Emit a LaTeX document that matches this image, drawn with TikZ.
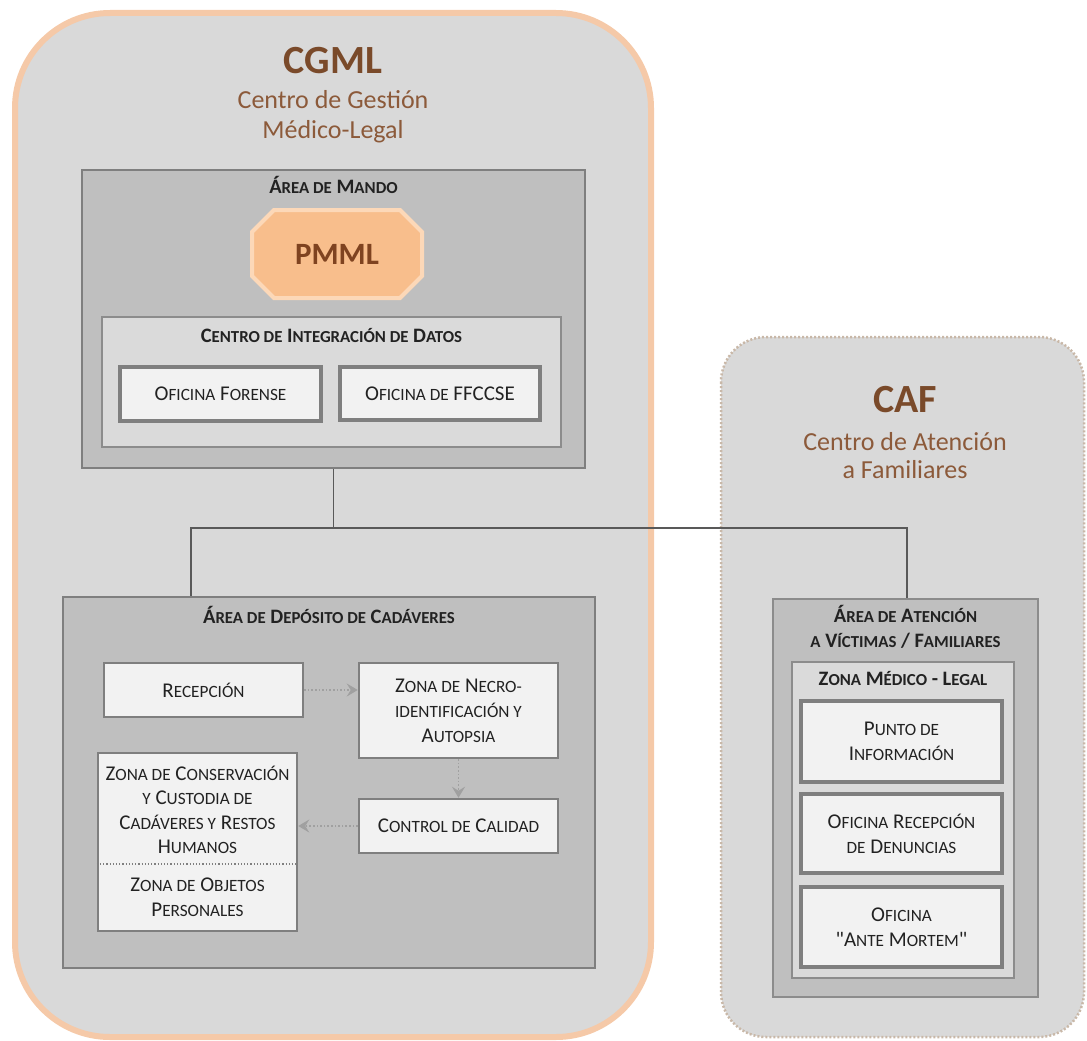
\documentclass[tikz,border=0pt]{standalone}
\usepackage{fontspec}
\setmainfont{Carlito}
\usetikzlibrary{arrows.meta}
\newcommand\sm[1]{{\addfontfeature{Scale=0.82}\MakeUppercase{#1}}}
\newcommand\dq{\XeTeXglyph\XeTeXcharglyph"0022\relax}
\definecolor{cgmlline}{HTML}{F5C9A8}
\definecolor{panel}{HTML}{D9D9D9}
\definecolor{cafline}{HTML}{C9B8A8}
\definecolor{areafill}{HTML}{BFBFBF}
\definecolor{arealine}{HTML}{7F7F7F}
\definecolor{zonefill}{HTML}{DADADA}
\definecolor{zoneline}{HTML}{8C8C8C}
\definecolor{boxfill}{HTML}{F2F2F2}
\definecolor{titlebrown}{HTML}{7A4A2A}
\definecolor{subbrown}{HTML}{8C5A3A}
\definecolor{pmmlfill}{HTML}{F8BE8C}
\definecolor{pmmlline}{HTML}{FCD8B8}
\definecolor{pmmltext}{HTML}{7F4320}
\definecolor{txt}{HTML}{222222}
\definecolor{conncol}{HTML}{595959}
\definecolor{flowcol}{HTML}{A0A0A0}
\tikzset{
  bigpanel/.style={rectangle, inner sep=0pt},
  areabox/.style={rectangle, draw=arealine, fill=areafill, line width=2.2pt, inner sep=0pt},
  zonebox/.style={rectangle, draw=zoneline, fill=zonefill, line width=1.4pt, inner sep=0pt},
  officebox/.style={rectangle, draw=arealine, fill=boxfill, line width=3.5pt, inner sep=2pt,
     align=center, text=txt, font=\fontsize{21}{25}\selectfont},
  roombox/.style={rectangle, draw=arealine, fill=boxfill, line width=2.5pt, inner sep=2pt,
     align=center, text=txt, font=\fontsize{21}{25}\selectfont},
  roomtext/.style={text=txt, align=center, font=\fontsize{21}{24.5}\selectfont},
  hdr/.style={anchor=base, text=txt, align=center, font=\fontsize{20.5}{25}\selectfont\bfseries},
  bigtitle/.style={anchor=base, text=titlebrown, font=\fontsize{40}{40}\selectfont\bfseries},
  subtitle/.style={anchor=base, text=subbrown, font=\fontsize{26}{30}\selectfont},
  conn/.style={draw=conncol, line width=1.4pt},
  flow/.style={draw=flowcol, line width=1.6pt, dotted, -{Stealth[length=11pt,width=13pt,inset=4pt]}}
}
\begin{document}
\begin{tikzpicture}[x=1pt,y=-1pt]
\useasboundingbox (0,0) rectangle (1087,1041);
% outer containers
\draw[cgmlline, line width=6pt, fill=panel, rounded corners=95pt] (15,13) rectangle (651,1037);
\node[bigpanel, minimum width=636, minimum height=1024] (cgml) at (333,525) {};
\draw[cafline, line width=2.5pt, dash pattern=on 2pt off 2pt, fill=panel, rounded corners=45pt] (721,337) rectangle (1084,1037);
\node[bigpanel, minimum width=363, minimum height=700] (caf) at (902.5,687) {};

% titles
\node[bigtitle] (cgmlt) at (333,74) {CGML};
\node[subtitle] (cgmls1) at (333,108) {Centro de Gestión};
\node[subtitle] (cgmls2) at (333,138) {Médico-Legal};
\node[bigtitle] (caft) at (905,412) {CAF};
\node[subtitle] (cafs1) at (905,450) {Centro de Atención};
\node[subtitle] (cafs2) at (905,478) {a Familiares};

% Area de Mando
\node[areabox, minimum width=503, minimum height=298] (mando) at (333.5,319) {};
\node[hdr] (mandot) at (333.5,193) {Á\sm{rea de} M\sm{ando}};
\draw[pmmlline, line width=4pt, fill=pmmlfill] (274,210) -- (400,210) -- (422,232) -- (422,276) -- (400,298) -- (274,298) -- (252,276) -- (252,232) -- cycle;
\node[text=pmmltext, font=\fontsize{31}{31}\selectfont\bfseries] (pmml) at (337,254) {PMML};
\node[zonebox, minimum width=459, minimum height=130] (centro) at (331.5,382) {};
\node[hdr] (centrot) at (331.5,342) {C\sm{entro de} I\sm{ntegración de} D\sm{atos}};
\node[officebox, minimum width=201, minimum height=54] (forense) at (220.5,394) {O\sm{ficina} F\sm{orense}};
\node[officebox, minimum width=200, minimum height=53] (ffccse) at (440,393.5) {O\sm{ficina de} FFCCSE};

% Area de Deposito
\node[areabox, minimum width=532, minimum height=371] (deposito) at (329,782.5) {};
\node[hdr] (depositot) at (329,623) {Á\sm{rea de} D\sm{epósito de} C\sm{adáveres}};
\node[roombox, minimum width=199, minimum height=54] (recep) at (203.5,690) {R\sm{ecepción}};
\node[roombox, minimum width=199, minimum height=95] (necro) at (458.5,710.5) {Z\sm{ona de} N\sm{ecro-}\\\sm{identificación y}\\A\sm{utopsia}};
\node[roombox, minimum width=199, minimum height=54] (control) at (458.5,826) {C\sm{ontrol de} C\sm{alidad}};
\node[roombox, minimum width=199, minimum height=178] (conserv) at (197.5,842) {};
\node[roomtext] (conservt) at (197.5,810) {Z\sm{ona de} C\sm{onservación}\\\sm{y} C\sm{ustodia de}\\C\sm{adáveres y} R\sm{estos}\\H\sm{umanos}};
\node[roomtext] (objetos) at (197.5,897) {Z\sm{ona de} O\sm{bjetos}\\P\sm{ersonales}};
\draw[arealine, line width=1.2pt, dotted] (conserv.west |- 0,864) -- (conserv.east |- 0,864);
\draw[flow] (recep.east) -- (recep.east -| necro.west);
\draw[flow] (necro.south) -- (control.north);
\draw[flow] (control.west) -- (control.west -| conserv.east);

% CAF inner
\node[zonebox, fill=areafill, minimum width=265, minimum height=398] (atencion) at (905.5,798) {};
\node[hdr] (atenciont) at (905.5,647) {Á\sm{rea de} A\sm{tención}\\\sm{a} V\sm{íctimas} / F\sm{amiliares}};
\node[zonebox, minimum width=222, minimum height=316] (zml) at (903,820) {};
\node[hdr] (zmlt) at (903,685) {Z\sm{ona} M\sm{édico} - L\sm{egal}};
\node[officebox, minimum width=201, minimum height=81] (punto) at (901.5,741.5) {P\sm{unto de}\\I\sm{nformación}};
\node[officebox, minimum width=201, minimum height=79] (denuncias) at (901.5,833.5) {O\sm{ficina} R\sm{ecepción}\\\sm{de} D\sm{enuncias}};
\node[officebox, minimum width=201, minimum height=80] (antem) at (901.5,927) {O\sm{ficina}\\\dq A\sm{nte} M\sm{ortem}\dq};

% connectors
\coordinate (jl) at (191,528);
\coordinate (jr) at (907,528);
\draw[conn] (mando.south) -- (mando.south |- jl);
\draw[conn] (deposito.north -| jl) -- (jl) -- (jr) -- (atencion.north -| jr);
\end{tikzpicture}
\end{document}
